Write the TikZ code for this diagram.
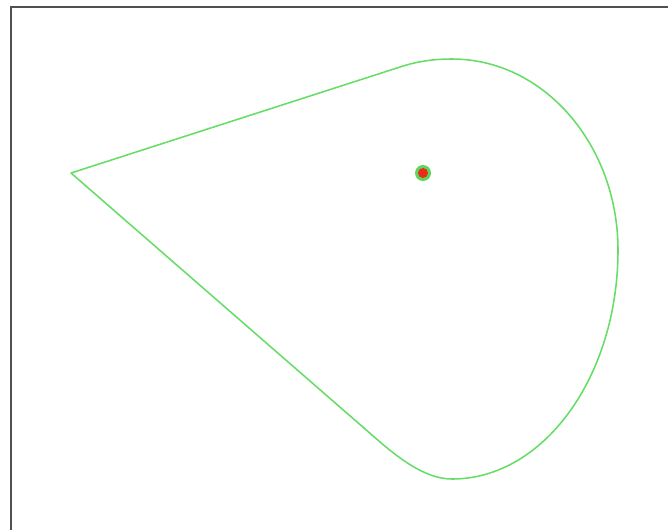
\documentclass[tikz,border=0pt]{standalone}
\usepackage{tikz}
\usetikzlibrary{calc}
\usepackage{xcolor}
\definecolor{dropgreen}{HTML}{66DD66}
\definecolor{dotred}{HTML}{EE2A1A}
\definecolor{dotgreen}{HTML}{33CC33}
\definecolor{framegray}{HTML}{505050}

\begin{document}
\begin{tikzpicture}[
      x=0.025cm, y=-0.025cm,
      outline/.style={draw=dropgreen, line width=1.1pt, line join=round},
      frameline/.style={draw=framegray, line width=1.5pt},
    ]
    \useasboundingbox (0,0) rectangle (668,529);
    \clip (0,0) rectangle (668,529);

    % frame (only left and top edges are visible)
    \draw[frameline] (11,560) -- (11,7) -- (700,7);

    % points of the drop outline
    \coordinate (tip)   at (71,173);
    \coordinate (upend) at (400,67);
    \coordinate (top)   at (452,59);
    \coordinate (right) at (618,250);
    \coordinate (bot)   at (452,479);
    \coordinate (lowend) at (372,435);

    \draw[outline] (tip) -- (upend)
      .. controls (418,61) and (435,59) .. (top)
      .. controls (544,59) and (618,145) .. (right)
      .. controls (618,376) and (544,479) .. (bot)
      .. controls (425,479) and (398,458) .. (lowend)
      -- cycle;

    % centre dot
    \fill[dotgreen!80] (423,173) circle (8);
    \fill[dotred] (423,173) circle (5);
  \end{tikzpicture}
\end{document}
